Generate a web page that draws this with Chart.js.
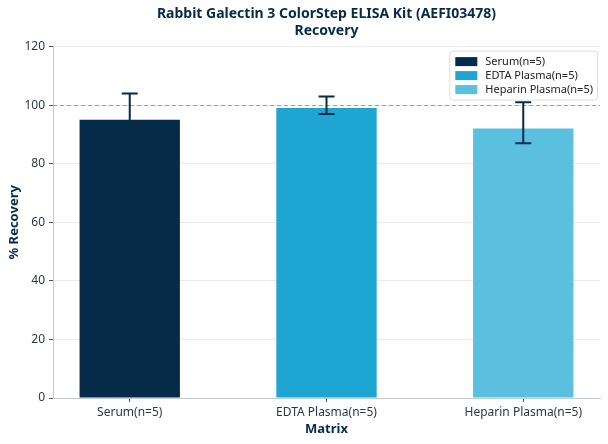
<!DOCTYPE html>
<html>
<head>
<meta charset="utf-8">
<script src="https://cdn.jsdelivr.net/npm/chart.js@4.4.1/dist/chart.umd.min.js"></script>
<style>
  html, body { margin: 0; padding: 0; background: #fff; }
  .wrap { width: 608px; height: 444px; }
</style>
</head>
<body>
<div class="wrap"><canvas id="chart"></canvas></div>
<script>
// Data
const categories = ["Serum(n=5)", "EDTA Plasma(n=5)", "Heparin Plasma(n=5)"];
const recovery = [95, 99, 92];
const errorLow = [86, 97, 87];
const errorHigh = [104, 103, 101];
const yTicks = [0, 20, 40, 60, 80, 100, 120];
const referenceValue = 100;

const barColors = ["#052b49", "#1fa5d2", "#5bbfe0"];
const navy = "#052b49";
const tickColor = "#2a3846";
const fontFamily = "'Noto Sans', 'Open Sans', sans-serif";

// Dashed reference line at 100 %
const referenceLine = {
    id: "referenceLine",
    beforeDatasetsDraw(chart) {
        const {ctx, chartArea, scales: {y}} = chart;
        const py = Math.round(y.getPixelForValue(referenceValue)) + 0.5;
        ctx.save();
        ctx.strokeStyle = "#5fb7c7";
        ctx.lineWidth = 1;
        ctx.setLineDash([4, 3]);
        ctx.beginPath();
        ctx.moveTo(chartArea.left, py);
        ctx.lineTo(chartArea.right, py);
        ctx.stroke();
        ctx.restore();
    }
};

// Error bars
const errorBars = {
    id: "errorBars",
    afterDatasetsDraw(chart) {
        const {ctx, scales: {y}} = chart;
        ctx.save();
        ctx.strokeStyle = navy;
        ctx.lineWidth = 2;
        chart.data.datasets.forEach(function (ds, i) {
            const bar = chart.getDatasetMeta(i).data[0];
            const top = y.getPixelForValue(errorHigh[i]);
            const bottom = y.getPixelForValue(errorLow[i]);
            ctx.beginPath();
            ctx.moveTo(bar.x, top);
            ctx.lineTo(bar.x, bottom);
            ctx.moveTo(bar.x - 8, top);
            ctx.lineTo(bar.x + 8, top);
            ctx.moveTo(bar.x - 8, bottom);
            ctx.lineTo(bar.x + 8, bottom);
            ctx.stroke();
        });
        ctx.restore();
    }
};

// Legend boxed inside the plot, upper right
const insideLegend = {
    id: "insideLegend",
    afterDraw(chart) {
        const {ctx, chartArea} = chart;
        const datasets = chart.data.datasets;
        ctx.save();
        ctx.font = "11px " + fontFamily;
        const textWidth = Math.max(...datasets.map(ds => ctx.measureText(ds.label).width));
        const rowH = 14, pad = 4, swW = 22, swH = 9, gap = 8;
        const w = pad + 2 + swW + gap + textWidth + pad;
        const h = pad + rowH * datasets.length + pad - 1;
        const x = chartArea.right - w - 3;
        const yTop = chartArea.top + 4;
        ctx.fillStyle = "rgba(255,255,255,0.85)";
        ctx.strokeStyle = "#dcdcdc";
        ctx.lineWidth = 1;
        ctx.beginPath();
        ctx.roundRect(x + 0.5, yTop + 0.5, w, h, 3);
        ctx.fill();
        ctx.stroke();
        ctx.textBaseline = "middle";
        datasets.forEach(function (ds, i) {
            const cy = yTop + pad + rowH * i + rowH / 2;
            ctx.fillStyle = ds.backgroundColor;
            ctx.fillRect(x + pad + 2, cy - swH / 2, swW, swH);
            ctx.fillStyle = "#222";
            ctx.fillText(ds.label, x + pad + 2 + swW + gap, cy + 0.5);
        });
        ctx.restore();
    }
};

new Chart(document.getElementById("chart").getContext("2d"), {
    type: "bar",
    data: {
        datasets: categories.map(function (name, i) {
            return {
                label: name,
                data: [{x: i, y: recovery[i]}],
                backgroundColor: barColors[i],
                grouped: false,
                categoryPercentage: 1,
                barPercentage: 0.51
            };
        })
    },
    options: {
        responsive: true,
        maintainAspectRatio: false,
        animation: false,
        layout: {
            padding: {left: 0, right: 8, top: 0, bottom: 4}
        },
        scales: {
            x: {
                type: "linear",
                offset: false,
                min: -0.39,
                max: 2.39,
                afterBuildTicks: function (axis) {
                    axis.ticks = categories.map((c, i) => ({value: i}));
                },
                afterFit: function (axis) {
                    axis.height = 42;
                },
                ticks: {
                    callback: value => categories[value],
                    color: tickColor,
                    font: {size: 12, family: fontFamily},
                    padding: 3,
                    maxRotation: 0
                },
                grid: {
                    offset: false,
                    drawOnChartArea: false,
                    tickLength: 4,
                    color: "#555"
                },
                border: {color: "#c3ccd3"},
                title: {
                    display: true,
                    text: "Matrix",
                    color: navy,
                    font: {size: 13, weight: "bold", family: fontFamily},
                    padding: {top: 0, bottom: 3}
                }
            },
            y: {
                min: 0,
                max: 120,
                afterBuildTicks: function (axis) {
                    axis.ticks = yTicks.map(v => ({value: v}));
                },
                afterFit: function (axis) {
                    axis.width = 53;
                },
                ticks: {
                    color: tickColor,
                    font: {size: 12, family: fontFamily},
                    padding: 4
                },
                grid: {
                    color: "#e6eaee",
                    tickColor: "#555",
                    tickLength: 4
                },
                border: {color: "#c3ccd3"},
                title: {
                    display: true,
                    text: "% Recovery",
                    color: navy,
                    font: {size: 13, weight: "bold", family: fontFamily},
                    padding: {top: 6, bottom: 0}
                }
            }
        },
        plugins: {
            legend: {display: false},
            tooltip: {enabled: false},
            title: {
                display: true,
                fullSize: false,
                text: ["Rabbit Galectin 3 ColorStep ELISA Kit (AEFI03478)", "Recovery"],
                color: navy,
                font: {size: 14, weight: "bold", family: fontFamily, lineHeight: 1.2},
                padding: {top: 6, bottom: 7}
            }
        }
    },
    plugins: [referenceLine, errorBars, insideLegend]
});
</script>
</body>
</html>
